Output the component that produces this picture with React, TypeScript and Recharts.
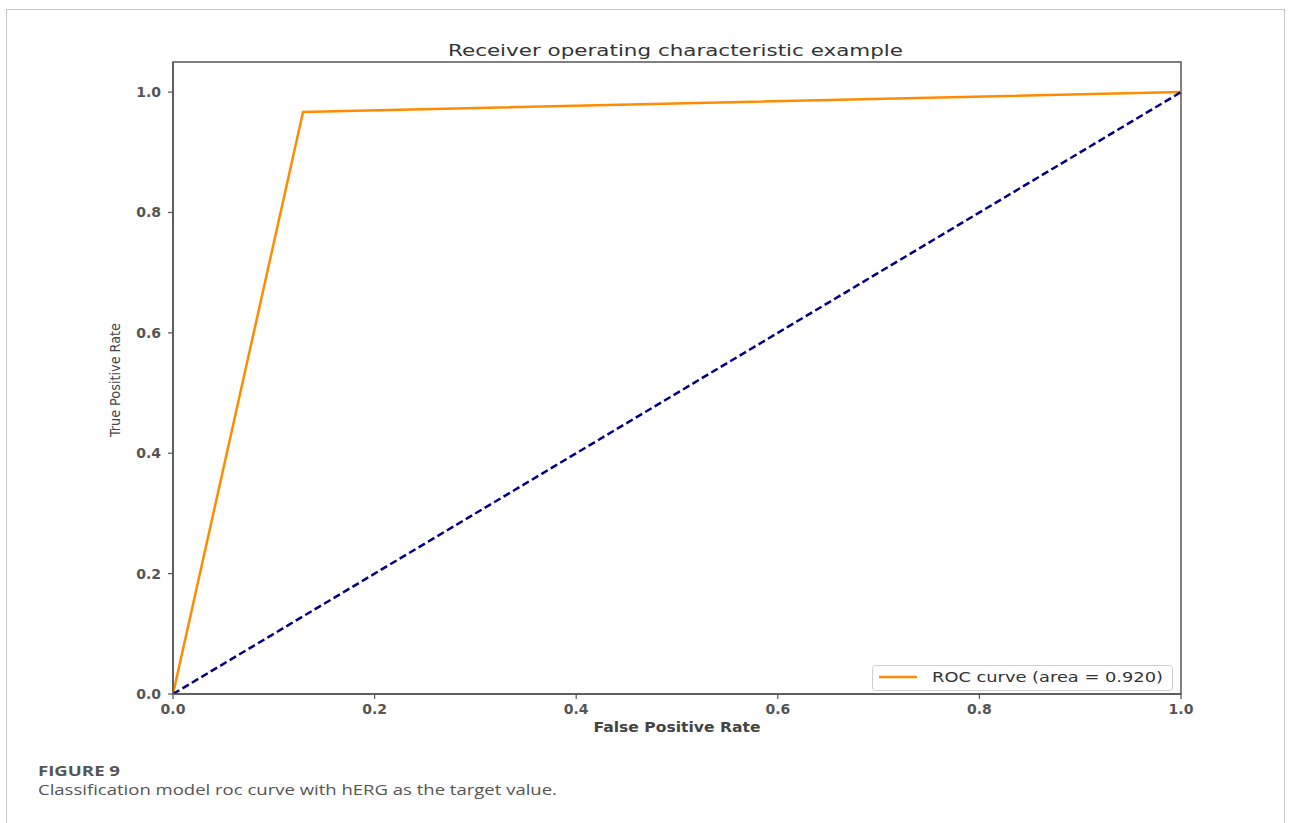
import React from "react";
import { LineChart, Line, XAxis, YAxis, ReferenceArea } from "recharts";

const rocFpr = [0, 0.129, 1];
const rocTpr = [0, 0.967, 1];
const chanceFpr = [0, 1];
const chanceTpr = [0, 1];
const xTicks = [0, 0.2, 0.4, 0.6, 0.8, 1.0];
const yTicks = [0, 0.2, 0.4, 0.6, 0.8, 1.0];
const rocName = "ROC curve (area = 0.920)";
const titleText = "Receiver operating characteristic example";
const xLabel = "False Positive Rate";
const yLabel = "True Positive Rate";
const figLabel = "FIGURE 9";
const captionText = "Classification model roc curve with hERG as the target value.";

const rocData = rocFpr.map((x, i) => ({ x, y: rocTpr[i] }));
const chanceData = chanceFpr.map((x, i) => ({ x, y: chanceTpr[i] }));

const W = 1292;
const H = 823;
const PL = 173, PR = 1181, PT = 62, PB = 694;
const YW = 60, XH = 30;

const tickFont = "'DejaVu Sans', sans-serif";

const XTick = (props: any) => {
  const { x, y, payload } = props;
  return (
    <text x={x} y={y + 13} textAnchor="middle" fontFamily={tickFont} fontSize={14} fontWeight="bold" fill="#555">
      {Number(payload.value).toFixed(1)}
    </text>
  );
};

const YTick = (props: any) => {
  const { x, y, payload } = props;
  return (
    <text x={x - 5} y={y + 5} textAnchor="end" fontFamily={tickFont} fontSize={14} fontWeight="bold" fill="#555">
      {Number(payload.value).toFixed(1)}
    </text>
  );
};

export default function App() {
  return (
    <div style={{ position: "absolute", left: 0, top: 0, width: W, height: H, background: "#fff", overflow: "hidden" }}>
      <div style={{ position: "absolute", left: 6, top: 9, width: 1279, height: 830, border: "1px solid #c8c8c8", boxSizing: "border-box" }} />
      <div style={{ position: "absolute", left: 0, top: 0 }}>
        <LineChart
          width={W}
          height={H}
          margin={{ left: PL - YW, right: W - PR, top: PT, bottom: H - PB - XH }}
        >
          <XAxis
            type="number"
            dataKey="x"
            domain={[0, 1]}
            ticks={xTicks}
            tick={<XTick />}
            tickSize={5}
            height={XH}
            axisLine={{ stroke: "#555", strokeWidth: 1.5 }}
            tickLine={{ stroke: "#555", strokeWidth: 1.2 }}
            allowDataOverflow
          />
          <YAxis
            type="number"
            dataKey="y"
            domain={[0, 1.05]}
            ticks={yTicks}
            tick={<YTick />}
            tickSize={5}
            width={YW}
            axisLine={{ stroke: "#555", strokeWidth: 1.5 }}
            tickLine={{ stroke: "#555", strokeWidth: 1.2 }}
            allowDataOverflow
          />
          <ReferenceArea x1={0} x2={1} y1={0} y2={1.05} fill="none" stroke="#555" strokeWidth={1.5} ifOverflow="visible" />
          <Line
            data={rocData}
            dataKey="y"
            name={rocName}
            type="linear"
            stroke="#FF8C00"
            strokeWidth={2.5}
            dot={false}
            activeDot={false}
            isAnimationActive={false}
          />
          <Line
            data={chanceData}
            dataKey="y"
            name="chance"
            type="linear"
            stroke="#000080"
            strokeWidth={2.5}
            strokeDasharray="7.4 3.6"
            dot={false}
            activeDot={false}
            legendType="none"
            isAnimationActive={false}
          />
        </LineChart>
      </div>
      <svg width={W} height={H} style={{ position: "absolute", left: 0, top: 0, pointerEvents: "none" }}>
        <text x={(448 + 903) / 2} y={56} textAnchor="middle" fontFamily={tickFont} fontSize={15} fill="#333" textLength={455} lengthAdjust="spacingAndGlyphs">
          {titleText}
        </text>
        <text x={677} y={732} textAnchor="middle" fontFamily={tickFont} fontSize={14} fontWeight="bold" fill="#444" textLength={167} lengthAdjust="spacingAndGlyphs">
          {xLabel}
        </text>
        <text x={0} y={0} transform="translate(120,380) rotate(-90)" textAnchor="middle" fontFamily="'DejaVu Sans Condensed', 'DejaVu Sans', sans-serif" fontSize={14} fill="#444" textLength={114} lengthAdjust="spacingAndGlyphs">
          {yLabel}
        </text>
        <text x={38} y={776} fontFamily="'Open Sans', sans-serif" fontSize={14} fontWeight="bold" fill="#555" textLength={82} lengthAdjust="spacingAndGlyphs">
          {figLabel}
        </text>
        <text x={38} y={795} fontFamily="'Open Sans', sans-serif" fontSize={14} fill="#555" textLength={519} lengthAdjust="spacingAndGlyphs">
          {captionText}
        </text>
        <rect x={872.5} y={665.5} width={300} height={25} rx={3} fill="rgba(255,255,255,0.85)" stroke="#d0d0d0" strokeWidth={1} />
        <line x1={879} x2={917} y1={677} y2={677} stroke="#FF8C00" strokeWidth={2.5} />
        <text x={932} y={682} fontFamily={tickFont} fontSize={14.5} fill="#333" textLength={231} lengthAdjust="spacingAndGlyphs">
          {rocName}
        </text>
      </svg>
    </div>
  );
}
